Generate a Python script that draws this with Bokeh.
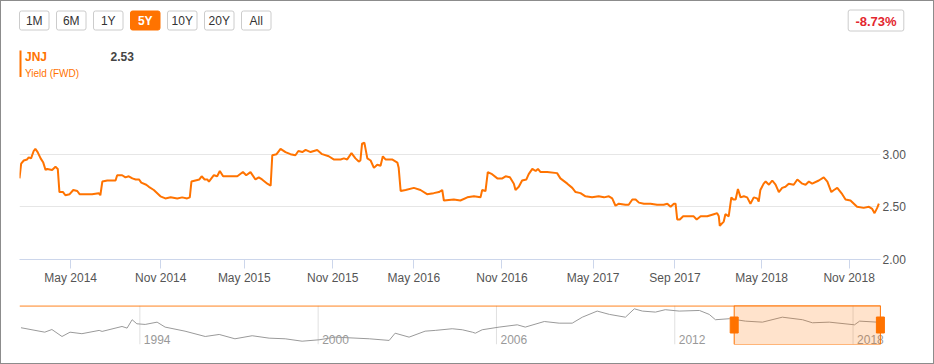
from bokeh.plotting import figure
from bokeh.layouts import column, row
from bokeh.models import Range1d, FixedTicker, BoxAnnotation, NumeralTickFormatter
from bokeh.core.properties import value
from bokeh.embed import file_html
from bokeh.resources import INLINE

FONT = "Liberation Sans"
ORANGE = "#ff7300"

# ---------------- data ----------------
range_buttons = ["1M", "6M", "1Y", "5Y", "10Y", "20Y", "All"]
active_button = "5Y"
change_text = "-8.73%"
ticker_symbol = "JNJ"
last_value_text = "2.53"
series_name = "Yield (FWD)"

# main series on an ordinal (week index) axis
week = [0, 0.5, 1.3, 2.3, 2.8, 3.5, 4.3, 4.8, 5.5, 6.4,
        7.2, 7.9, 8.4, 9.9, 10.9, 11.6, 12.1, 13.2, 13.9, 15.2,
        16.3, 17.5, 18.2, 20.0, 22.0, 24.0, 24.5, 25.1, 26.6, 29.1,
        29.6, 31.1, 32.1, 33.1, 34.2, 35.2, 36.2, 36.9, 38.4, 39.2,
        40.7, 42.7, 44.2, 45.8, 47.8, 49.3, 50.8, 51.6, 52.1, 53.3,
        54.5, 55.2, 56.1, 56.9, 57.4, 58.9, 59.9, 60.7, 61.7, 63.9,
        66.0, 67.7, 68.7, 70.0, 71.5, 72.5, 73.5, 75.1, 76.1, 76.6,
        77.9, 79.1, 80.6, 82.1, 83.6, 84.5, 85.7, 86.7, 88.2, 90.2,
        91.7, 93.7, 95.2, 97.3, 98.3, 99.3, 100.6, 101.8, 102.8, 103.3,
        103.8, 104.5, 105.4, 106.4, 107.4, 108.4, 109.4, 110.1, 110.9, 112.9,
        114.5, 114.9, 115.5, 117.0, 119.5, 121.5, 123.5, 125.5, 127.1, 128.1,
        128.6, 131.6, 133.6, 135.7, 137.7, 139.7, 140.2, 141.2, 141.9, 143.2,
        144.8, 146.3, 147.3, 148.6, 149.8, 150.3, 151.3, 152.3, 153.6, 154.3,
        155.4, 156.4, 157.1, 157.9, 159.9, 162.9, 163.9, 166.0, 167.5, 168.5,
        170.0, 171.5, 173.5, 175.5, 177.1, 178.6, 179.6, 180.6, 181.6, 183.6,
        184.6, 185.7, 186.7, 187.7, 189.2, 191.2, 193.2, 195.2, 196.3, 197.3,
        198.3, 198.8, 199.3, 200.1, 201.1, 204.3, 205.2, 206.4, 208.4, 210.4,
        211.4, 211.9, 212.2, 213.4, 213.9, 214.9, 215.7, 216.3, 217.0, 217.7,
        218.5, 219.5, 220.5, 221.5, 222.5, 223.5, 224.0, 224.5, 225.5, 226.1,
        227.1, 228.1, 229.1, 230.1, 231.1, 232.1, 233.1, 234.6, 235.7, 237.2,
        238.2, 239.2, 240.2, 242.2, 243.7, 244.8, 246.0, 246.8, 247.8, 249.3,
        250.3, 251.8, 253.8, 255.8, 257.4, 258.4, 259.1, 259.9, 260.4]
yield_fwd = [2.77, 2.91, 2.94, 2.95, 2.97, 2.96, 3.03, 3.05, 3.02, 2.96,
             2.92, 2.85, 2.86, 2.85, 2.88, 2.86, 2.64, 2.64, 2.61, 2.62,
             2.66, 2.65, 2.62, 2.62, 2.62, 2.63, 2.61, 2.74, 2.75, 2.75,
             2.80, 2.80, 2.78, 2.79, 2.77, 2.76, 2.76, 2.73, 2.71, 2.69,
             2.66, 2.60, 2.58, 2.59, 2.58, 2.59, 2.58, 2.59, 2.74, 2.75,
             2.76, 2.79, 2.76, 2.76, 2.74, 2.80, 2.79, 2.84, 2.79, 2.79,
             2.79, 2.83, 2.80, 2.83, 2.76, 2.78, 2.76, 2.72, 2.70, 2.99,
             3.00, 3.05, 3.02, 3.00, 2.99, 3.03, 3.02, 3.04, 3.02, 3.04,
             3.00, 2.98, 2.95, 2.95, 2.96, 2.95, 3.01, 2.96, 2.93, 2.94,
             3.10, 3.11, 2.96, 2.94, 2.87, 2.90, 2.89, 2.98, 2.95, 2.95,
             2.92, 2.87, 2.65, 2.66, 2.68, 2.66, 2.62, 2.63, 2.64, 2.66,
             2.56, 2.57, 2.56, 2.59, 2.60, 2.59, 2.66, 2.65, 2.83, 2.81,
             2.77, 2.77, 2.79, 2.78, 2.72, 2.66, 2.69, 2.75, 2.76, 2.81,
             2.86, 2.84, 2.86, 2.83, 2.83, 2.82, 2.77, 2.72, 2.68, 2.64,
             2.63, 2.60, 2.59, 2.60, 2.59, 2.60, 2.58, 2.51, 2.53, 2.52,
             2.52, 2.57, 2.57, 2.54, 2.53, 2.53, 2.52, 2.52, 2.53, 2.50,
             2.53, 2.53, 2.38, 2.38, 2.41, 2.41, 2.38, 2.41, 2.41, 2.43,
             2.44, 2.41, 2.32, 2.36, 2.43, 2.41, 2.59, 2.57, 2.57, 2.67,
             2.59, 2.60, 2.59, 2.53, 2.59, 2.58, 2.55, 2.66, 2.72, 2.74,
             2.71, 2.75, 2.71, 2.64, 2.68, 2.69, 2.72, 2.71, 2.76, 2.72,
             2.71, 2.74, 2.72, 2.75, 2.78, 2.74, 2.64, 2.66, 2.68, 2.62,
             2.57, 2.56, 2.50, 2.49, 2.50, 2.48, 2.44, 2.49, 2.53]
assert len(week) == len(yield_fwd)

x_tick_week = [15.5, 42.8, 68.1, 94.9, 119.5, 146.2, 173.8, 198.6, 224.9, 251.4]
x_tick_label = ["May 2014", "Nov 2014", "May 2015", "Nov 2015", "May 2016",
                "Nov 2016", "May 2017", "Sep 2017", "May 2018", "Nov 2018"]
y_ticks = [2.0, 2.5, 3.0, 3.5]

# navigator: full history
nav_year = [1990.0, 1990.8, 1991.04, 1991.38, 1991.65, 1992.05, 1992.63, 1992.73, 1993.4, 1993.57,
            1993.74, 1993.9, 1994.18, 1994.58, 1994.85, 1995.52, 1996.2, 1996.67, 1997.2, 1997.78,
            1998.35, 1998.89, 1999.46, 2000.03, 2000.57, 2001.72, 2002.39, 2002.59, 2003.06, 2003.6,
            2003.94, 2004.51, 2004.85, 2005.19, 2005.29, 2005.52, 2006.09, 2006.7, 2006.97, 2007.61,
            2008.11, 2008.55, 2008.89, 2009.39, 2009.8, 2010.34, 2010.64, 2010.91, 2011.35, 2011.68,
            2012.15, 2012.83, 2013.16, 2013.37, 2013.84, 2014.38, 2014.95, 2015.62, 2016.3, 2016.63,
            2017.2, 2018.05, 2018.22, 2018.82, 2018.92]
nav_yield = [2.28, 1.93, 2.14, 1.59, 1.93, 1.81, 2.07, 1.99, 2.38, 2.25,
             2.91, 2.59, 2.54, 2.72, 2.33, 2.01, 1.59, 1.75, 1.41, 1.65,
             1.46, 1.41, 1.22, 1.33, 1.54, 1.41, 1.28, 1.85, 1.54, 2.01,
             2.07, 2.20, 2.12, 1.93, 1.85, 2.12, 2.33, 2.51, 2.33, 2.77,
             2.64, 2.64, 3.11, 3.59, 3.33, 3.11, 3.77, 3.59, 3.51, 3.70,
             3.59, 3.64, 3.33, 2.91, 2.99, 2.80, 2.72, 3.11, 2.91, 2.67,
             2.72, 2.51, 2.80, 2.72, 2.53]
assert len(nav_year) == len(nav_yield)
nav_tick_years = [1994, 2000, 2006, 2012, 2018]
selected_start = 2014.0
selected_end = 2018.92

W = 932  # inner width (page has a 1px border)

# ---------------- header ----------------
hdr = figure(width=W, height=89, x_range=Range1d(1, 933), y_range=Range1d(90, 1),
             output_backend="svg", toolbar_location=None,
             x_axis_location=None, y_axis_location=None, min_border=0,
             outline_line_color=None)
hdr.xgrid.visible = False
hdr.ygrid.visible = False

bl = [19 + 37 * i for i in range(len(range_buttons))]
br = [v + 29.5 for v in bl]
bc = [(a + b) / 2 for a, b in zip(bl, br)]
is_active = [b == active_button for b in range_buttons]
hdr.quad(left=bl, right=br, top=10.5, bottom=29.5,
         fill_color=[ORANGE if a else "white" for a in is_active],
         line_color=[ORANGE if a else "#cccccc" for a in is_active],
         border_radius=2)
hdr.text(x=[c for c, a in zip(bc, is_active) if not a], y=20,
         text=[t for t, a in zip(range_buttons, is_active) if not a],
         text_align="center", text_baseline="middle", text_font=value(FONT),
         text_font_size="12px", text_color="#333333")
hdr.text(x=[c for c, a in zip(bc, is_active) if a], y=20,
         text=[t for t, a in zip(range_buttons, is_active) if a],
         text_align="center", text_baseline="middle", text_font=value(FONT),
         text_font_size="12px", text_color="white", text_font_style="bold")

hdr.quad(left=847.7, right=903.3, top=9.5, bottom=30.5, fill_color="white",
         line_color="#cccccc", border_radius=2)
hdr.text(x=[875.5], y=[20.5], text=[change_text], text_align="center",
         text_baseline="middle", text_font=value(FONT), text_font_size="13px",
         text_font_style="bold", text_color="#e3262f")

hdr.quad(left=19, right=21, top=50, bottom=76.5, fill_color=ORANGE, line_color=None)
hdr.text(x=[24.5], y=[56], text=[ticker_symbol], text_baseline="middle",
         text_font=value(FONT), text_font_size="12px", text_font_style="bold",
         text_color=ORANGE)
hdr.text(x=[110], y=[56], text=[last_value_text], text_baseline="middle",
         text_font=value(FONT), text_font_size="12px", text_font_style="bold",
         text_color="#444444")
hdr.text(x=[24.5], y=[72.5], text=[series_name], text_baseline="middle",
         text_font=value(FONT), text_font_size="10px", text_color=ORANGE)

# ---------------- main chart ----------------
main = figure(width=W, height=200, x_range=Range1d(0, 260.9), y_range=Range1d(2.0, 3.5),
              y_axis_location="right", output_backend="svg", toolbar_location=None,
              min_border_left=18, min_border_right=53, min_border_top=11,
              min_border_bottom=31, outline_line_color=None)
main.line(week, yield_fwd, line_color=ORANGE, line_width=2)

xa = main.xaxis[0]
xa.ticker = FixedTicker(ticks=x_tick_week)
xa.major_label_overrides = {t: l for t, l in zip(x_tick_week, x_tick_label)}
xa.axis_line_color = "#ccd6eb"
xa.major_tick_line_color = "#ccd6eb"
xa.major_tick_out = 9
xa.major_tick_in = 0
xa.minor_tick_line_color = None
xa.major_label_standoff = 2
xa.major_label_text_font = FONT
xa.major_label_text_font_size = "12px"
xa.major_label_text_color = "#555555"

ya = main.yaxis[0]
ya.ticker = FixedTicker(ticks=y_ticks)
ya.formatter = NumeralTickFormatter(format="0.00")
ya.major_label_overrides = {3.5: ""}
ya.axis_line_color = None
ya.major_tick_line_color = None
ya.major_tick_out = 0
ya.major_tick_in = 0
ya.minor_tick_line_color = None
ya.major_label_standoff = 2
ya.major_label_text_font = FONT
ya.major_label_text_font_size = "12px"
ya.major_label_text_color = "#555555"

main.xgrid.visible = False
main.ygrid.grid_line_color = "#e6e6e6"

# ---------------- navigator ----------------
nx0, nx1 = 1989.95, 2019.26
ny0, ny1 = 0.96, 4.03
nav = figure(width=W, height=73, x_range=Range1d(nx0, nx1), y_range=Range1d(ny0, ny1),
             output_backend="svg", toolbar_location=None,
             x_axis_location=None, y_axis_location=None,
             min_border_left=18, min_border_right=43, min_border_top=15,
             min_border_bottom=19, outline_line_color=None)
nav.xgrid.visible = False
nav.ygrid.visible = False
nav.segment(x0=nav_tick_years, y0=ny0, x1=nav_tick_years, y1=ny1,
            line_color="#e0e0e0", line_width=1)
nav.text(x=nav_tick_years, y=ny0, text=[str(y) for y in nav_tick_years],
         x_offset=4, y_offset=-1, text_baseline="bottom", text_font=value(FONT),
         text_font_size="12px", text_color="#999999")
nav.line(nav_year, nav_yield, line_color="#9a9a9a", line_width=1)
nav.segment(x0=[nx0], y0=[ny1 - 0.03], x1=[selected_end], y1=[ny1 - 0.03],
            line_color=ORANGE, line_width=1.2)
nav.add_layout(BoxAnnotation(left=selected_start, right=selected_end,
                             fill_color=ORANGE, fill_alpha=0.2,
                             line_color=ORANGE, line_width=1, line_alpha=1.0))
nav.rect(x=[selected_start, selected_end], y=(ny0 + ny1) / 2, width=8, height=16,
         width_units="screen", height_units="screen",
         fill_color=ORANGE, line_color=ORANGE)

layout = column(row(hdr), main, row(nav), styles={"border": "1px solid #8c8c8c"})
open("out.html", "w").write(file_html(layout, INLINE))
